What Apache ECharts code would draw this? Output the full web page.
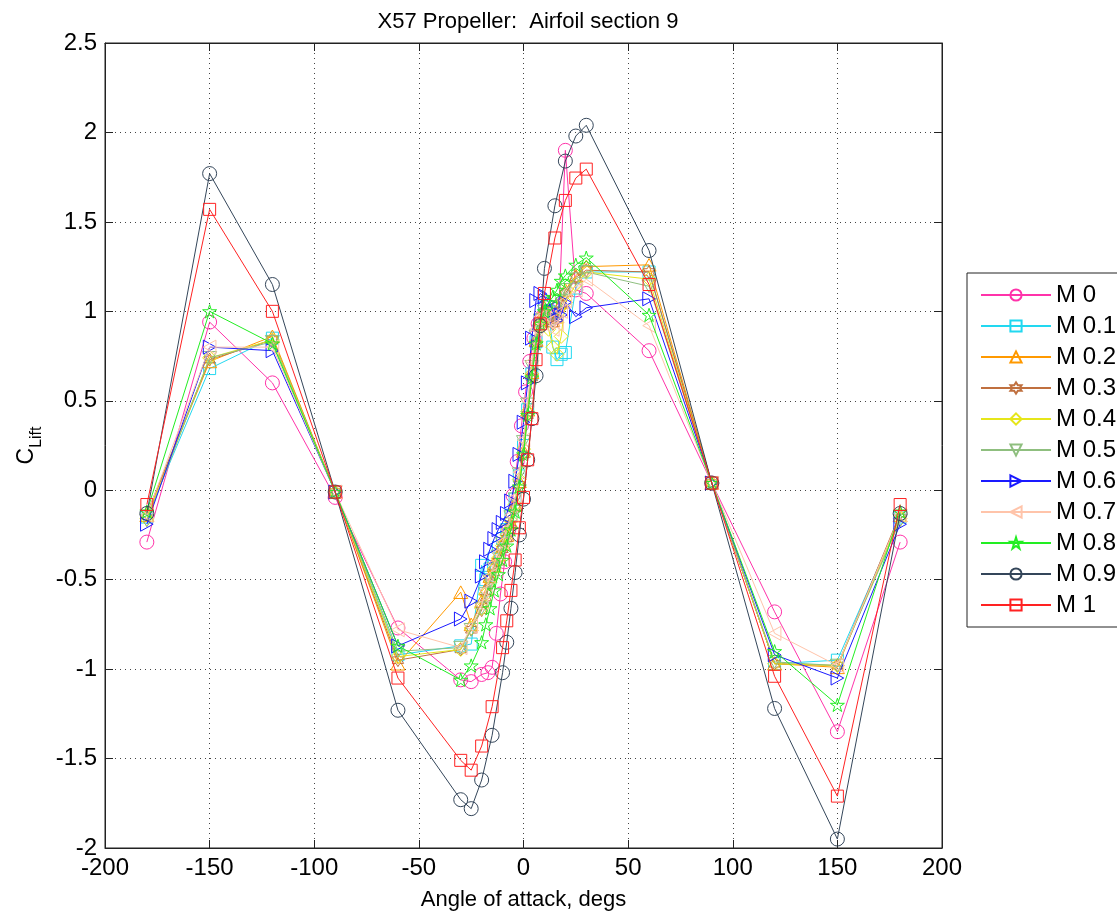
<!DOCTYPE html>
<html>
<head>
<meta charset="utf-8">
<script src="https://cdn.jsdelivr.net/npm/echarts@6/dist/echarts.min.js"></script>
<style>
html,body{margin:0;padding:0;background:#fff;}
#chart{width:1117px;height:916px;}
</style>
</head>
<body>
<div id="chart"></div>
<script>
// ---------------- data ----------------
const machLabels = ['M 0','M 0.1','M 0.2','M 0.3','M 0.4','M 0.5','M 0.6','M 0.7','M 0.8','M 0.9','M 1'];

const alphaM0 = [-180,-150,-120,-90,-60,-30,-25,-20,-17,-15,-13,-11,-9,-7,-5,-3,-1,1,3,5,7,9,11,13,15,17,20,25,30,60,90,120,150,180];
const clM0    = [-0.29,0.94,0.60,-0.04,-0.77,-1.06,-1.07,-1.03,-1.02,-0.99,-0.80,-0.58,-0.40,-0.22,-0.03,0.16,0.36,0.55,0.72,0.85,0.93,0.97,0.99,1.00,1.01,1.03,1.90,1.12,1.10,0.78,0.04,-0.68,-1.35,-0.29];

const alphaMid = [-180,-150,-120,-90,-60,-30,-25,-20,-18,-16,-14,-12,-10,-8,-6,-4,-2,0,2,4,6,8,10,12,14,16,18,20,25,30,60,90,120,150,180];
const clM01 = [-0.15,0.68,0.85,-0.01,-0.92,-0.87,-0.86,-0.42,-0.50,-0.44,-0.38,-0.32,-0.27,-0.22,-0.14,-0.05,0.08,0.25,0.45,0.65,0.83,0.95,1.03,1.00,0.80,0.73,0.76,0.77,1.13,1.22,1.22,0.04,-0.97,-0.95,-0.15];
const clM02 = [-0.14,0.72,0.86,-0.01,-0.97,-0.57,-0.75,-0.62,-0.55,-0.48,-0.42,-0.36,-0.30,-0.25,-0.18,-0.08,0.05,0.22,0.45,0.66,0.84,0.96,1.02,0.98,0.95,0.97,1.05,1.12,1.20,1.25,1.26,0.04,-0.97,-0.99,-0.14];
const clM03 = [-0.13,0.73,0.84,-0.01,-0.95,-0.89,-0.78,-0.67,-0.60,-0.52,-0.46,-0.40,-0.33,-0.27,-0.19,-0.10,0.03,0.20,0.42,0.63,0.82,0.94,1.00,0.96,0.93,0.96,1.04,1.10,1.19,1.23,1.22,0.04,-0.97,-0.98,-0.13];
const clM04 = [-0.16,0.74,0.84,-0.01,-0.93,-0.89,-0.77,-0.66,-0.58,-0.50,-0.44,-0.38,-0.31,-0.25,-0.17,-0.08,0.06,0.23,0.44,0.65,0.83,0.92,0.96,0.90,0.80,0.76,0.86,1.05,1.15,1.22,1.18,0.04,-0.97,-0.98,-0.16];
const clM05 = [-0.17,0.74,0.83,-0.01,-0.90,-0.88,-0.78,-0.66,-0.58,-0.51,-0.44,-0.37,-0.30,-0.23,-0.15,-0.05,0.09,0.27,0.48,0.69,0.86,0.95,1.00,0.98,0.95,0.99,1.06,1.12,1.18,1.22,1.14,0.04,-0.96,-0.98,-0.17];
const clM06 = [-0.19,0.80,0.78,-0.01,-0.87,-0.72,-0.62,-0.48,-0.40,-0.33,-0.27,-0.22,-0.18,-0.13,-0.06,0.05,0.20,0.38,0.60,0.85,1.06,1.10,1.08,1.05,1.00,0.95,0.98,1.05,0.97,1.02,1.07,0.04,-0.92,-1.05,-0.19];
const clM07 = [-0.14,0.80,0.80,-0.01,-0.78,-0.88,-0.76,-0.64,-0.56,-0.48,-0.41,-0.35,-0.29,-0.22,-0.14,-0.04,0.10,0.28,0.50,0.72,0.90,0.97,0.98,0.94,0.90,0.93,1.00,1.06,1.12,1.18,0.92,0.04,-0.80,-0.98,-0.14];
const clM08 = [-0.12,1.00,0.82,-0.01,-0.87,-1.06,-0.98,-0.85,-0.75,-0.66,-0.56,-0.47,-0.39,-0.31,-0.22,-0.12,0.02,0.20,0.42,0.63,0.82,0.93,1.00,1.05,1.08,1.12,1.17,1.20,1.26,1.30,0.98,0.04,-0.90,-1.20,-0.12];

const alphaHigh = [-180,-150,-120,-90,-60,-30,-25,-20,-15,-10,-8,-6,-4,-2,0,2,4,6,8,10,15,20,25,30,60,90,120,150,180];
const clM09 = [-0.13,1.77,1.15,-0.01,-1.23,-1.73,-1.78,-1.62,-1.37,-1.02,-0.85,-0.66,-0.46,-0.25,-0.05,0.17,0.40,0.64,0.92,1.24,1.59,1.84,1.98,2.04,1.34,0.04,-1.22,-1.95,-0.13];
const clM1  = [-0.08,1.57,1.00,-0.01,-1.05,-1.51,-1.565,-1.43,-1.21,-0.88,-0.73,-0.56,-0.39,-0.21,-0.04,0.17,0.40,0.73,0.93,1.10,1.41,1.62,1.745,1.795,1.15,0.04,-1.04,-1.71,-0.08];

// ---------------- styling ----------------
const seriesDefs = [
  {a: alphaM0,  c: clM0,  color:'#ff33aa', sym:'circle', size:14},
  {a: alphaMid, c: clM01, color:'#22d8f0', sym:'rect', size:12},
  {a: alphaMid, c: clM02, color:'#ff9900', sym:'path://M0,-10 L10,8 L-10,8 Z', size:14},
  {a: alphaMid, c: clM03, color:'#c0703f', sym:'path://M0,-10 L2.887,-5 L8.66,-5 L5.774,0 L8.66,5 L2.887,5 L0,10 L-2.887,5 L-8.66,5 L-5.774,0 L-8.66,-5 L-2.887,-5 Z', size:13},
  {a: alphaMid, c: clM04, color:'#e6e61a', sym:'diamond', size:14},
  {a: alphaMid, c: clM05, color:'#8fbf7f', sym:'path://M-10,-8 L10,-8 L0,10 Z', size:14},
  {a: alphaMid, c: clM06, color:'#1a1aff', sym:'path://M-8,-10 L10,0 L-8,10 Z', size:14},
  {a: alphaMid, c: clM07, color:'#ffc4aa', sym:'path://M8,-10 L-10,0 L8,10 Z', size:14},
  {a: alphaMid, c: clM08, color:'#22ee22', sym:'path://M0,-10 L2.245,-3.09 L9.511,-3.09 L3.633,1.18 L5.878,8.09 L0,3.82 L-5.878,8.09 L-3.633,1.18 L-9.511,-3.09 L-2.245,-3.09 Z', size:14},
  {a: alphaHigh, c: clM09, color:'#34465a', sym:'circle', size:14},
  {a: alphaHigh, c: clM1,  color:'#ff2222', sym:'rect', size:12}
];

const FONT = '"Liberation Sans", Arial, sans-serif';

const series = seriesDefs.map((d, i) => ({
  name: machLabels[i],
  type: 'line',
  data: d.a.map((x, k) => [x, d.c[k]]),
  symbol: d.sym,
  symbolSize: d.size,
  symbolKeepAspect: true,
  showAllSymbol: true,
  lineStyle: {color: d.color, width: 1},
  itemStyle: {color: 'rgba(255,255,255,0)', borderColor: d.color, borderWidth: 1},
  emphasis: {disabled: true},
  animation: false,
  z: 2 + i
}));

const chart = echarts.init(document.getElementById('chart'), null, {renderer: 'canvas'});
chart.setOption({
  backgroundColor: '#fff',
  animation: false,
  textStyle: {fontFamily: FONT},
  title: {
    text: 'X57 Propeller:  Airfoil section 9',
    left: 523, top: 6, textAlign: 'center',
    textStyle: {fontFamily: FONT, fontSize: 22, fontWeight: 'normal', color: '#000'}
  },
  grid: {left: 105, top: 43, width: 837, height: 806, show: true, borderColor: '#222', borderWidth: 1, backgroundColor: '#fff'},
  legend: {
    orient: 'vertical', left: 967, top: 273,
    data: machLabels,
    itemWidth: 70, itemHeight: 14, itemGap: 7,
    padding: [10, 40, 10, 13],
    backgroundColor: '#fff', borderColor: '#222', borderWidth: 1,
    textStyle: {fontFamily: FONT, fontSize: 24, color: '#000'},
    selectedMode: false
  },
  xAxis: [{
    type: 'value', min: -200, max: 200, interval: 50,
    name: 'Angle of attack, degs', nameLocation: 'middle', nameGap: 41,
    nameTextStyle: {fontFamily: FONT, fontSize: 22, color: '#000'},
    axisLine: {show: true, onZero: false, lineStyle: {color: '#222'}},
    axisTick: {show: true, inside: true, length: 8, lineStyle: {color: '#222'}},
    axisLabel: {fontFamily: FONT, fontSize: 24, color: '#000', margin: 8},
    splitLine: {show: true, lineStyle: {color: '#444', type: [1, 4], width: 1}}
  }, {
    type: 'value', min: -200, max: 200, interval: 50, position: 'top',
    axisLine: {show: true, onZero: false, lineStyle: {color: '#222'}},
    axisTick: {show: true, inside: true, length: 8, lineStyle: {color: '#222'}},
    axisLabel: {show: false}, splitLine: {show: false}
  }],
  yAxis: [{
    type: 'value', min: -2, max: 2.5, interval: 0.5,
    name: '{c|C}{s|Lift}', nameLocation: 'middle', nameGap: 60, nameRotate: 90,
    nameTextStyle: {
      fontFamily: FONT, color: '#000',
      rich: {
        c: {fontFamily: FONT, fontSize: 23, color: '#000', lineHeight: 30, verticalAlign: 'top'},
        s: {fontFamily: FONT, fontSize: 16, color: '#000', lineHeight: 30, verticalAlign: 'bottom', padding: [10,0,0,0]}
      }
    },
    axisLine: {show: true, onZero: false, lineStyle: {color: '#222'}},
    axisTick: {show: true, inside: true, length: 8, lineStyle: {color: '#222'}},
    axisLabel: {fontFamily: FONT, fontSize: 24, color: '#000', margin: 8},
    splitLine: {show: true, lineStyle: {color: '#444', type: [1, 4], width: 1}}
  }, {
    type: 'value', min: -2, max: 2.5, interval: 0.5, position: 'right',
    axisLine: {show: true, onZero: false, lineStyle: {color: '#222'}},
    axisTick: {show: true, inside: true, length: 8, lineStyle: {color: '#222'}},
    axisLabel: {show: false}, splitLine: {show: false}
  }],
  series: series
});
</script>
</body>
</html>
